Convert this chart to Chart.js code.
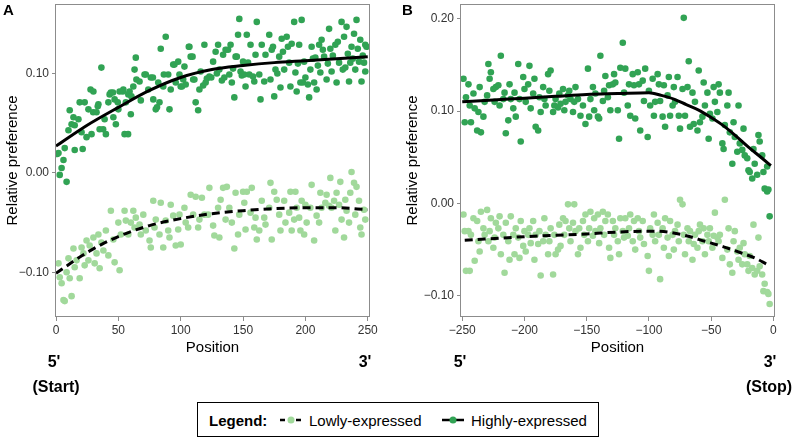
<!DOCTYPE html>
<html>
<head>
<meta charset="utf-8">
<script src="https://cdn.jsdelivr.net/npm/chart.js@4.4.1/dist/chart.umd.min.js"></script>
<style>
body{margin:0;background:#fff;font-family:"Liberation Sans",Arial,sans-serif;}
#wrap{position:relative;width:797px;height:437px;overflow:hidden;}
canvas{position:absolute;top:0;}
.lbl{position:absolute;font-weight:bold;font-size:16px;color:#000;transform:translate(-50%,-50%);white-space:nowrap;}
.panel{position:absolute;font-weight:bold;font-size:15px;z-index:2;}
#legend{position:absolute;left:197px;top:402px;width:402px;height:35px;border:1px solid #000;box-sizing:border-box;font-size:15px;}
#legend span,#legend svg{position:absolute;top:50%;transform:translateY(-50%);white-space:nowrap;}
</style>
</head>
<body>
<div id="wrap">
  <canvas id="chartA" width="390" height="360" style="left:0"></canvas>
  <canvas id="chartB" width="397" height="360" style="left:400px"></canvas>
  <div class="panel" style="left:3px;top:1px">A</div>
  <div class="panel" style="left:402px;top:1px">B</div>
  <div class="lbl" style="left:54px;top:362px">5'</div>
  <div class="lbl" style="left:365px;top:362px">3'</div>
  <div class="lbl" style="left:56px;top:387px">(Start)</div>
  <div class="lbl" style="left:460px;top:362px">5'</div>
  <div class="lbl" style="left:770px;top:362px">3'</div>
  <div class="lbl" style="left:769px;top:387px">(Stop)</div>
  <div id="legend">
    <span style="left:11px;font-weight:bold">Legend:</span>
    <svg style="left:82px" width="22" height="10"><line x1="0" y1="5" x2="22" y2="5" stroke="#000" stroke-width="2.5" stroke-dasharray="5,3"/><circle cx="11" cy="5" r="3.5" fill="#a1d99b"/></svg>
    <span style="left:111px">Lowly-expressed</span>
    <svg style="left:244px" width="22" height="10"><line x1="0" y1="5" x2="22" y2="5" stroke="#000" stroke-width="2.5"/><circle cx="11" cy="5" r="3.5" fill="#31a354"/></svg>
    <span style="left:273px">Highly-expressed</span>
  </div>
</div>
<script>
/// tick values ///
const aXTicks = [0, 50, 100, 150, 200, 250];
const aYTicks = [-0.1, 0, 0.1];
const bXTicks = [-250, -200, -150, -100, -50, 0];
const bYTicks = [-0.1, 0, 0.1, 0.2];

/// panel A (start) ///
const aHigh = [[1,0.019],[2,0.020],[3,-0.002],[4.5,0.005],[6,0.013],[7,0.025],[8.5,-0.009],[10,0.043],[11,0.063],[12.5,0.049],[14,0.056],[15,0.048],[15,0.023],[18,0.054],[19,0.071],[20.5,0.041],[21.4,0.024],[23,0.071],[24.5,0.036],[26,0.064],[27.7,0.084],[28.5,0.039],[29.8,0.061],[30,0.082],[32.5,0.061],[33.5,0.067],[34,0.069],[35,0.044],[36.4,0.106],[37.8,0.044],[39,0.054],[40,0.039],[42,0.071],[43,0.079],[44,0.081],[45.7,0.081],[46,0.056],[47,0.074],[48,0.049],[49.5,0.071],[50,0.064],[51,0.082],[53.6,0.082],[54,0.084],[55,0.039],[56,0.071],[57.8,0.039],[58,0.079],[59,0.082],[60,0.059],[60.5,0.077],[62,0.087],[63,0.104],[64,0.116],[64.5,0.094],[67,0.092],[68,0.073],[71,0.099],[72,0.099],[74,0.084],[76,0.096],[77.7,0.096],[78,0.074],[80,0.064],[81,0.066],[82,0.091],[83,0.071],[84,0.125],[86,0.087],[86.5,0.099],[88,0.137],[90,0.099],[91,0.064],[92,0.084],[94,0.109],[95,0.109],[96,0.091],[98,0.112],[99,0.099],[100,0.087],[101,0.087],[102,0.094],[103,0.107],[104,0.089],[106.5,0.127],[107,0.127],[108,0.117],[109.5,0.117],[110,0.094],[111,0.094],[112,0.071],[114,0.063],[115,0.084],[116,0.102],[118,0.088],[119,0.129],[120,0.091],[121,0.095],[123,0.097],[124.5,0.096],[126,0.112],[128,0.122],[129,0.100],[130,0.129],[131,0.104],[133,0.093],[134,0.119],[135,0.096],[136,0.124],[138,0.124],[139,0.099],[140,0.129],[141,0.091],[142,0.105],[143,0.076],[144,0.117],[145,0.117],[146,0.139],[147,0.155],[148,0.102],[149,0.098],[150,0.112],[151,0.099],[152,0.087],[153,0.139],[154,0.111],[155,0.099],[156,0.129],[158,0.097],[159,0.092],[160,0.119],[161,0.152],[163,0.099],[164,0.074],[165,0.129],[167,0.092],[168,0.119],[171,0.139],[172,0.094],[173,0.124],[174,0.127],[175,0.077],[176,0.104],[177.5,0.100],[179,0.117],[180,0.086],[181,0.135],[182,0.122],[183,0.104],[185,0.137],[186,0.127],[187,0.111],[188,0.087],[189,0.130],[191,0.152],[192,0.101],[193,0.082],[194,0.110],[195,0.129],[196,0.091],[197,0.154],[198,0.091],[199,0.112],[200,0.096],[202,0.089],[203,0.076],[204,0.104],[205,0.127],[206,0.115],[207,0.091],[208,0.116],[209,0.084],[210,0.108],[211,0.129],[212,0.101],[213,0.134],[214,0.124],[215,0.117],[217,0.094],[218,0.110],[219,0.145],[220,0.125],[221,0.102],[222,0.118],[224,0.129],[225,0.091],[226,0.132],[227,0.111],[229,0.152],[230,0.104],[231,0.137],[232,0.106],[233,0.147],[234,0.120],[235,0.092],[236,0.111],[237,0.127],[238,0.115],[239,0.140],[240,0.104],[241,0.154],[242,0.125],[243,0.112],[244,0.134],[245,0.092],[246,0.118],[247,0.111],[248,0.129],[248,0.102],[249,0.127]];
const aLow = [[2,-0.091],[3,-0.105],[4.5,-0.111],[6,-0.128],[7,-0.129],[8.5,-0.100],[10,-0.086],[11,-0.106],[12.5,-0.124],[14,-0.076],[15,-0.095],[16.5,-0.088],[19,-0.106],[20.5,-0.075],[22,-0.081],[23,-0.093],[24.5,-0.068],[26,-0.088],[27,-0.073],[30,-0.065],[31,-0.091],[32.5,-0.081],[34,-0.062],[35,-0.096],[36.4,-0.070],[38,-0.078],[40,-0.058],[42,-0.083],[44,-0.038],[46,-0.067],[47,-0.090],[50,-0.050],[51,-0.098],[52,-0.062],[55,-0.038],[56,-0.048],[58,-0.062],[60,-0.050],[62,-0.038],[63,-0.055],[64,-0.045],[67,-0.052],[68,-0.062],[70,-0.042],[72,-0.058],[75,-0.068],[76,-0.075],[78,-0.028],[79,-0.055],[80,-0.047],[83,-0.062],[84,-0.030],[86,-0.075],[88,-0.048],[90,-0.058],[91,-0.065],[92,-0.032],[94,-0.043],[96,-0.073],[98,-0.057],[99,-0.042],[100,-0.072],[103,-0.035],[104,-0.050],[106,-0.055],[108,-0.022],[110,-0.042],[112,-0.024],[114,-0.055],[115,-0.047],[117,-0.025],[119,-0.042],[122,-0.042],[123,-0.015],[126,-0.053],[127,-0.063],[130,-0.035],[131,-0.065],[132,-0.027],[134,-0.015],[136,-0.047],[137,-0.014],[139,-0.035],[141,-0.050],[143,-0.076],[144,-0.020],[146,-0.062],[147,-0.042],[150,-0.019],[151,-0.030],[152,-0.057],[153,-0.019],[156,-0.040],[157,-0.015],[159,-0.055],[160,-0.045],[161,-0.067],[163,-0.058],[165,-0.028],[167,-0.045],[168,-0.052],[171,-0.035],[172,-0.010],[173,-0.067],[175,-0.019],[177,-0.027],[179,-0.042],[180,-0.058],[183,-0.028],[184,-0.050],[187,-0.040],[188,-0.019],[189,-0.058],[191,-0.047],[192,-0.019],[193,-0.035],[195,-0.045],[196,-0.058],[197,-0.028],[199,-0.062],[200,-0.032],[201,-0.050],[204,-0.035],[205,-0.012],[207,-0.068],[209,-0.043],[211,-0.050],[212,-0.020],[213,-0.035],[216,-0.030],[217,-0.022],[219,-0.033],[220,-0.005],[221,-0.035],[223,-0.028],[224,-0.058],[225,-0.020],[227,-0.032],[228,-0.009],[229,-0.047],[231,-0.065],[232,-0.027],[233,-0.038],[235,-0.050],[236,-0.020],[237,0.001],[239,-0.010],[240,-0.042],[241,-0.014],[243,-0.028],[244,-0.055],[245,-0.062],[247,-0.037],[248,-0.047]];
const aFitX = [0, 25, 50, 75, 100, 125, 150, 175, 200, 225, 250];
const aHighFit = [0.027, 0.048, 0.066, 0.083, 0.096, 0.104, 0.108, 0.111, 0.113, 0.115, 0.117];
const aLowFit = [-0.101, -0.080, -0.064, -0.053, -0.046, -0.041, -0.038, -0.036, -0.035, -0.035, -0.037];

/// panel B (stop) ///
const bHigh = [[-249,0.135],[-248,0.088],[-247,0.115],[-245,0.129],[-244,0.106],[-243,0.088],[-241,0.119],[-240,0.103],[-238,0.079],[-237,0.099],[-236,0.126],[-235,0.077],[-233,0.094],[-232,0.110],[-230,0.117],[-229,0.151],[-228,0.135],[-227,0.142],[-225,0.124],[-224,0.110],[-223,0.126],[-221,0.128],[-220,0.106],[-219,0.160],[-217,0.113],[-216,0.120],[-215,0.076],[-213,0.090],[-212,0.129],[-211,0.113],[-209,0.103],[-208,0.120],[-207,0.094],[-205,0.151],[-204,0.113],[-203,0.067],[-201,0.137],[-200,0.124],[-199,0.110],[-197,0.129],[-196,0.149],[-195,0.103],[-193,0.119],[-192,0.135],[-191,0.083],[-189,0.079],[-188,0.115],[-187,0.099],[-185,0.126],[-184,0.113],[-183,0.106],[-181,0.140],[-180,0.122],[-179,0.144],[-177,0.099],[-176,0.106],[-175,0.113],[-173,0.104],[-172,0.119],[-171,0.108],[-169,0.124],[-168,0.101],[-167,0.110],[-165,0.117],[-164,0.122],[-163,0.113],[-161,0.099],[-160,0.110],[-159,0.126],[-157,0.113],[-155,0.095],[-153,0.106],[-151,0.086],[-149,0.146],[-148,0.094],[-147,0.113],[-145,0.126],[-144,0.101],[-143,0.119],[-141,0.094],[-140,0.092],[-139,0.160],[-137,0.111],[-136,0.122],[-135,0.138],[-133,0.115],[-132,0.128],[-131,0.101],[-129,0.129],[-128,0.140],[-127,0.131],[-125,0.101],[-124,0.070],[-123,0.147],[-121,0.174],[-120,0.120],[-119,0.146],[-117,0.106],[-116,0.129],[-115,0.095],[-113,0.140],[-112,0.128],[-111,0.092],[-109,0.142],[-108,0.129],[-107,0.079],[-105,0.133],[-104,0.111],[-103,0.146],[-101,0.072],[-100,0.122],[-99,0.106],[-97,0.135],[-96,0.095],[-95,0.110],[-93,0.140],[-92,0.129],[-91,0.111],[-89,0.094],[-88,0.128],[-87,0.083],[-85,0.117],[-84,0.137],[-83,0.095],[-81,0.106],[-80,0.126],[-79,0.110],[-77,0.137],[-76,0.095],[-75,0.081],[-73,0.124],[-72,0.201],[-71,0.095],[-69,0.126],[-68,0.154],[-67,0.083],[-65,0.120],[-64,0.086],[-63,0.110],[-61,0.079],[-60,0.144],[-59,0.088],[-57,0.094],[-56,0.131],[-55,0.106],[-53,0.120],[-52,0.070],[-51,0.097],[-49,0.092],[-48,0.126],[-47,0.110],[-45,0.099],[-44,0.129],[-43,0.120],[-41,0.065],[-40,0.059],[-39,0.085],[-37,0.106],[-36,0.120],[-35,0.077],[-33,0.043],[-32,0.088],[-31,0.072],[-29,0.056],[-28,0.106],[-27,0.065],[-25,0.058],[-24,0.081],[-23,0.052],[-21,0.049],[-20,0.036],[-19,0.034],[-17,0.027],[-16,0.059],[-15,0.043],[-13,0.031],[-12,0.074],[-11,0.067],[-9,0.052],[-8,0.034],[-7,0.016],[-5,0.013],[-5,0.040],[-4,0.015],[-3,-0.014]];
const bLow = [[-249,-0.012],[-248,-0.030],[-247,-0.073],[-245,-0.030],[-244,-0.073],[-243,-0.034],[-241,-0.016],[-240,-0.062],[-238,-0.019],[-237,-0.041],[-236,-0.052],[-235,-0.009],[-233,-0.027],[-232,-0.034],[-230,-0.007],[-229,-0.041],[-228,-0.030],[-227,-0.016],[-225,-0.048],[-224,-0.037],[-223,-0.021],[-221,-0.027],[-220,-0.014],[-219,-0.055],[-217,-0.034],[-216,-0.075],[-215,-0.021],[-213,-0.041],[-212,-0.061],[-211,-0.014],[-209,-0.034],[-208,-0.055],[-207,-0.027],[-205,-0.037],[-204,-0.059],[-203,-0.019],[-201,-0.046],[-200,-0.030],[-199,-0.052],[-197,-0.034],[-196,-0.027],[-195,-0.043],[-193,-0.019],[-192,-0.061],[-191,-0.034],[-189,-0.044],[-188,-0.030],[-187,-0.078],[-185,-0.041],[-184,-0.016],[-183,-0.034],[-181,-0.055],[-180,-0.041],[-179,-0.027],[-177,-0.077],[-176,-0.034],[-175,-0.055],[-173,-0.050],[-172,-0.023],[-171,-0.046],[-169,-0.016],[-168,-0.034],[-167,-0.019],[-165,-0.001],[-164,-0.027],[-163,-0.041],[-161,-0.021],[-160,-0.001],[-159,-0.030],[-157,-0.055],[-156,-0.027],[-155,-0.048],[-153,-0.019],[-152,-0.034],[-151,-0.012],[-149,-0.041],[-148,-0.027],[-147,-0.009],[-145,-0.035],[-144,-0.016],[-143,-0.030],[-141,-0.012],[-140,-0.043],[-139,-0.027],[-137,-0.009],[-136,-0.034],[-135,-0.019],[-133,-0.012],[-132,-0.048],[-131,-0.059],[-129,-0.019],[-128,-0.034],[-127,-0.027],[-125,-0.041],[-124,-0.055],[-123,-0.016],[-121,-0.030],[-120,-0.037],[-119,-0.016],[-117,-0.035],[-116,-0.027],[-115,-0.012],[-113,-0.041],[-112,-0.019],[-111,-0.050],[-109,-0.016],[-108,-0.030],[-107,-0.037],[-105,-0.019],[-104,-0.044],[-101,-0.057],[-100,-0.073],[-99,-0.027],[-97,-0.034],[-96,-0.012],[-95,-0.041],[-93,-0.021],[-92,-0.034],[-91,-0.082],[-89,-0.027],[-88,-0.048],[-87,-0.016],[-85,-0.037],[-84,-0.057],[-83,-0.019],[-81,-0.034],[-80,-0.050],[-79,-0.030],[-77,-0.023],[-76,-0.041],[-75,0.004],[-73,-0.001],[-72,-0.034],[-71,-0.055],[-69,-0.027],[-68,-0.041],[-67,-0.030],[-65,-0.061],[-64,-0.044],[-63,-0.034],[-61,-0.048],[-60,-0.030],[-59,-0.023],[-57,-0.041],[-56,-0.027],[-55,-0.055],[-53,-0.034],[-52,-0.041],[-51,-0.027],[-49,-0.048],[-48,-0.035],[-47,-0.010],[-45,-0.037],[-44,-0.041],[-43,-0.034],[-41,-0.059],[-39,0.004],[-37,-0.050],[-36,-0.027],[-35,-0.066],[-33,-0.075],[-32,-0.041],[-31,-0.030],[-29,-0.052],[-28,-0.061],[-27,-0.048],[-25,-0.066],[-24,-0.043],[-23,-0.055],[-21,-0.066],[-20,-0.073],[-19,-0.057],[-17,-0.070],[-16,-0.023],[-15,-0.077],[-13,-0.073],[-12,-0.037],[-11,-0.068],[-9,-0.077],[-8,-0.095],[-7,-0.087],[-5,-0.096],[-4,-0.098],[-3,-0.109]];
const bHighFitX = [-250, -225, -200, -175, -150, -125, -100, -90, -80, -70, -60, -50, -40, -30, -20, -10, -2];
const bHighFit = [0.110, 0.112, 0.114, 0.116, 0.118, 0.119, 0.120, 0.117, 0.113, 0.107, 0.101, 0.093, 0.084, 0.073, 0.061, 0.050, 0.041];
const bLowFitX = [-248, -200, -150, -125, -100, -85, -70, -55, -40, -25, -15, -5];
const bLowFit = [-0.040, -0.036, -0.033, -0.031, -0.030, -0.031, -0.035, -0.041, -0.047, -0.054, -0.059, -0.066];

const darkGreen = '#31a354';
const lightGreen = '#a1d99b';
const axisGrey = '#8c8c8c';
Chart.defaults.font.family = '"Liberation Sans", Arial, sans-serif';

function fmtNum(v, digits) {
  return v.toFixed(digits).replace('-', '\u2212');
}

const boxPlugin = {
  id: 'panelBox',
  afterDraw(chart) {
    const a = chart.chartArea;
    const ctx = chart.ctx;
    ctx.save();
    ctx.strokeStyle = axisGrey;
    ctx.lineWidth = 1;
    ctx.strokeRect(Math.round(a.left) - 0.5, Math.round(a.top) + 0.5, Math.round(a.right - a.left) + 1, Math.round(a.bottom - a.top) - 1);
    ctx.restore();
  }
};

function pts(list) {
  return list.map(p => ({x: p[0], y: p[1]}));
}
function fitPts(xs, ys) {
  return xs.map((x, i) => ({x: x, y: ys[i]}));
}

function makePanel(id, o) {
  const ctx = document.getElementById(id).getContext('2d');
  return new Chart(ctx, {
    type: 'scatter',
    data: {
      datasets: [
        {data: fitPts(o.highFitX, o.highFit), showLine: true, borderColor: '#000', borderWidth: 3, pointRadius: 0, tension: 0.4, cubicInterpolationMode: 'monotone', order: 0},
        {data: fitPts(o.lowFitX, o.lowFit), showLine: true, borderColor: '#000', borderWidth: 3, borderDash: [8, 5], pointRadius: 0, tension: 0.4, cubicInterpolationMode: 'monotone', order: 0},
        {data: pts(o.high), backgroundColor: darkGreen, borderWidth: 0, pointRadius: 3.3, order: 1},
        {data: pts(o.low), backgroundColor: lightGreen, borderWidth: 0, pointRadius: 3.3, order: 2}
      ]
    },
    options: {
      responsive: false,
      devicePixelRatio: 1,
      animation: false,
      layout: {padding: {top: 1, right: o.padRight, bottom: 0, left: 0}},
      plugins: {legend: {display: false}, tooltip: {enabled: false}},
      scales: {
        x: {
          type: 'linear', min: o.xMin, max: o.xMax,
          afterBuildTicks: s => { s.ticks = o.xTicks.map(v => ({value: v})); },
          afterFit: s => { s.height = 43; s.paddingLeft = 0; s.paddingRight = 0; },
          grid: {drawOnChartArea: false, drawTicks: true, tickLength: 4, color: axisGrey},
          border: {display: false},
          ticks: {font: {size: 12}, color: '#333', padding: 2, maxRotation: 0, autoSkip: false, callback: v => fmtNum(v, 0)},
          title: {display: true, text: 'Position', font: {size: 15}, color: '#000', padding: {top: 0, bottom: 3}}
        },
        y: {
          type: 'linear', min: o.yMin, max: o.yMax,
          afterBuildTicks: s => { s.ticks = o.yTicks.map(v => ({value: v})); },
          afterFit: s => { s.width = o.yWidth; s.paddingTop = 0; s.paddingBottom = 0; },
          grid: {drawOnChartArea: false, drawTicks: true, tickLength: 4, color: axisGrey},
          border: {display: false},
          ticks: {font: {size: 12}, color: '#333', padding: 3, autoSkip: false, callback: v => fmtNum(v, 2)},
          title: {display: true, text: 'Relative preference', font: {size: 15}, color: '#000', padding: {top: 4, bottom: 0}}
        }
      }
    },
    plugins: [boxPlugin]
  });
}

makePanel('chartA', {
  high: aHigh, low: aLow,
  highFitX: aFitX, highFit: aHighFit, lowFitX: aFitX, lowFit: aLowFit,
  xTicks: aXTicks, yTicks: aYTicks,
  xMin: 0, xMax: 251, yMin: -0.145, yMax: 0.170,
  yWidth: 56, padRight: 21
});

makePanel('chartB', {
  high: bHigh, low: bLow,
  highFitX: bHighFitX, highFit: bHighFit, lowFitX: bLowFitX, lowFit: bLowFit,
  xTicks: bXTicks, yTicks: bYTicks,
  xMin: -251, xMax: 0.5, yMin: -0.123, yMax: 0.216,
  yWidth: 61, padRight: 23
});
</script>
</body>
</html>
